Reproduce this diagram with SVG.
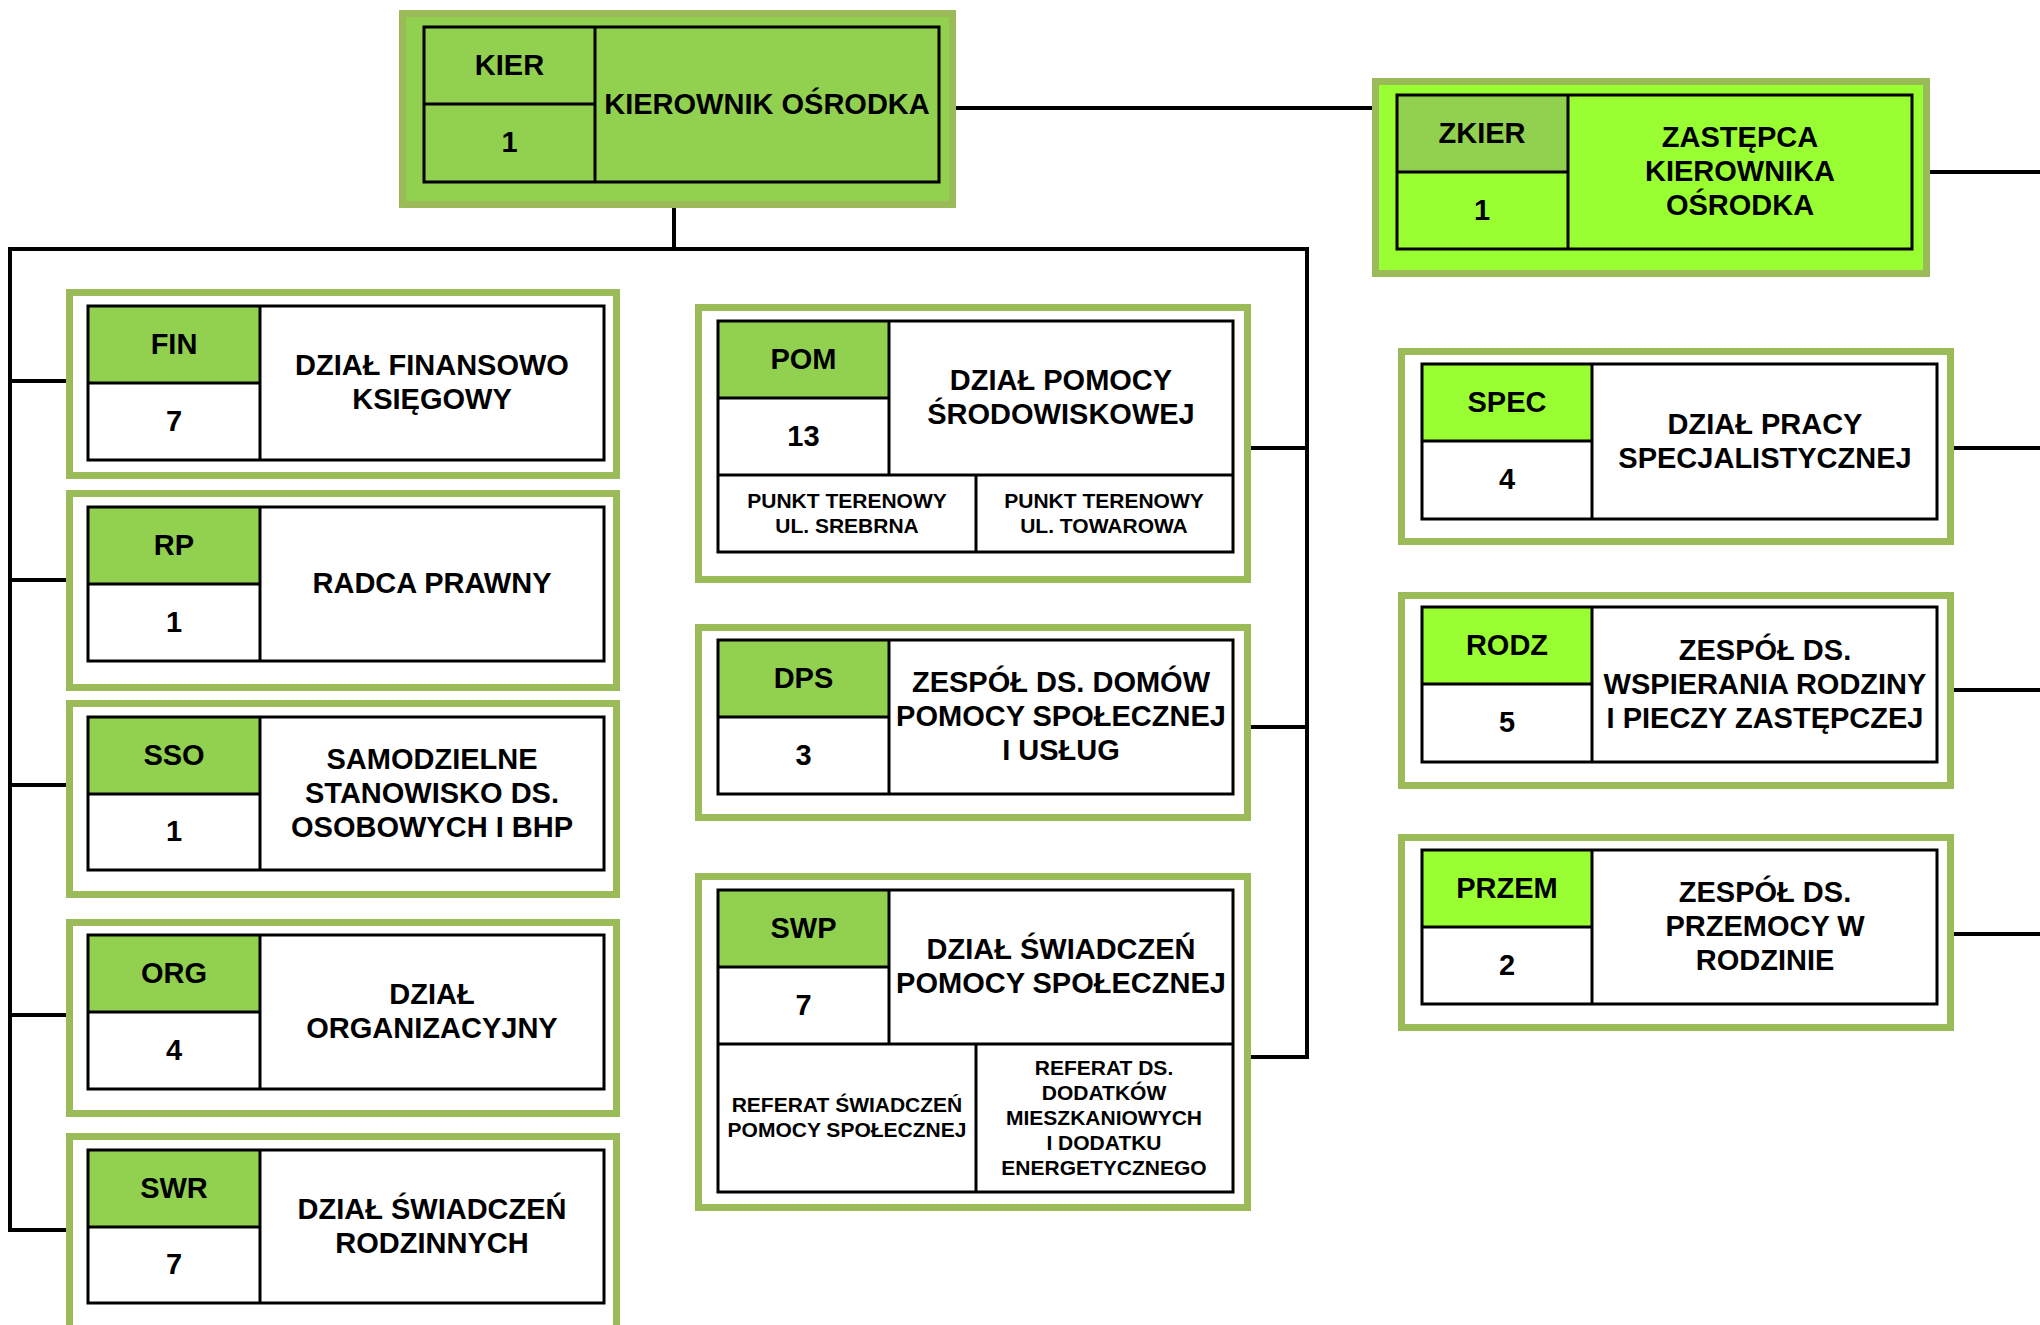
<svg xmlns="http://www.w3.org/2000/svg" width="2040" height="1325" viewBox="0 0 2040 1325">
<style>
.bg{fill:#ffffff}
.frame{stroke:#9BBB59;stroke-width:7;fill:#ffffff}
.frameA{stroke:#9BBB59;stroke-width:7;fill:#92D050}
.frameB{stroke:#9BBB59;stroke-width:7;fill:#99FF33}
.tbl{fill:none;stroke:#000;stroke-width:3}
.cellA{fill:#92D050}
.cellB{fill:#99FF33}
.ln{stroke:#000;stroke-width:3;fill:none}
.con{stroke:#000;stroke-width:4;fill:none;stroke-linecap:square}
text{font-family:"Liberation Sans",Arial,sans-serif;font-weight:bold;fill:#000;text-anchor:middle}
.t{font-size:29px}
.s{font-size:21px}
</style>
<rect class="bg" x="0" y="0" width="2040" height="1325"/>

<g id="connectors">
<line class="con" x1="956" y1="108" x2="1372" y2="108"/>
<line class="con" x1="1930" y1="172" x2="2040" y2="172"/>
<line class="con" x1="674" y1="208" x2="674" y2="249"/>
<line class="con" x1="10" y1="249" x2="1307" y2="249"/>
<line class="con" x1="10" y1="249" x2="10" y2="1230"/>
<line class="con" x1="10" y1="381" x2="66" y2="381"/>
<line class="con" x1="10" y1="580" x2="66" y2="580"/>
<line class="con" x1="10" y1="785" x2="66" y2="785"/>
<line class="con" x1="10" y1="1015" x2="66" y2="1015"/>
<line class="con" x1="10" y1="1230" x2="66" y2="1230"/>
<line class="con" x1="1307" y1="249" x2="1307" y2="1057"/>
<line class="con" x1="1251" y1="448" x2="1307" y2="448"/>
<line class="con" x1="1251" y1="727" x2="1307" y2="727"/>
<line class="con" x1="1251" y1="1057" x2="1307" y2="1057"/>
<line class="con" x1="1954" y1="448" x2="2040" y2="448"/>
<line class="con" x1="1954" y1="690" x2="2040" y2="690"/>
<line class="con" x1="1954" y1="934" x2="2040" y2="934"/>
</g>

<g id="KIER">
<rect class="frameA" x="402.5" y="13.5" width="550" height="191"/>
<rect class="tbl" x="424" y="27" width="515" height="155"/>
<line class="ln" x1="595" y1="27" x2="595" y2="182"/>
<line class="ln" x1="424" y1="104" x2="595" y2="104"/>
<text class="t" x="509.5" y="74.5">KIER</text>
<text class="t" x="509.5" y="152">1</text>
<text class="t" x="767" y="113.5">KIEROWNIK OŚRODKA</text>
</g>

<g id="ZKIER">
<rect class="frameB" x="1375.5" y="81.5" width="551" height="192"/>
<rect class="cellA" x="1397" y="95" width="171" height="77"/>
<rect class="tbl" x="1397" y="95" width="515" height="154"/>
<line class="ln" x1="1568" y1="95" x2="1568" y2="249"/>
<line class="ln" x1="1397" y1="172" x2="1568" y2="172"/>
<text class="t" x="1482" y="142.5">ZKIER</text>
<text class="t" x="1482" y="219.5">1</text>
<text class="t" x="1740" y="147">ZASTĘPCA</text>
<text class="t" x="1740" y="181">KIEROWNIKA</text>
<text class="t" x="1740" y="215">OŚRODKA</text>
</g>

<g id="FIN">
<rect class="frame" x="69.5" y="292.5" width="547" height="183"/>
<rect class="cellA" x="88" y="306" width="172" height="77"/>
<rect class="tbl" x="88" y="306" width="516" height="154"/>
<line class="ln" x1="260" y1="306" x2="260" y2="460"/>
<line class="ln" x1="88" y1="383" x2="260" y2="383"/>
<text class="t" x="174" y="353.5">FIN</text>
<text class="t" x="174" y="430.5">7</text>
<text class="t" x="432" y="375">DZIAŁ FINANSOWO</text>
<text class="t" x="432" y="409">KSIĘGOWY</text>
</g>

<g id="RP">
<rect class="frame" x="69.5" y="493.5" width="547" height="194"/>
<rect class="cellA" x="88" y="507" width="172" height="77"/>
<rect class="tbl" x="88" y="507" width="516" height="154"/>
<line class="ln" x1="260" y1="507" x2="260" y2="661"/>
<line class="ln" x1="88" y1="584" x2="260" y2="584"/>
<text class="t" x="174" y="554.5">RP</text>
<text class="t" x="174" y="631.5">1</text>
<text class="t" x="432" y="593">RADCA PRAWNY</text>
</g>

<g id="SSO">
<rect class="frame" x="69.5" y="703.5" width="547" height="191"/>
<rect class="cellA" x="88" y="717" width="172" height="77"/>
<rect class="tbl" x="88" y="717" width="516" height="153"/>
<line class="ln" x1="260" y1="717" x2="260" y2="870"/>
<line class="ln" x1="88" y1="794" x2="260" y2="794"/>
<text class="t" x="174" y="764.5">SSO</text>
<text class="t" x="174" y="841">1</text>
<text class="t" x="432" y="768.5">SAMODZIELNE</text>
<text class="t" x="432" y="802.5">STANOWISKO DS.</text>
<text class="t" x="432" y="836.5">OSOBOWYCH I BHP</text>
</g>

<g id="ORG">
<rect class="frame" x="69.5" y="922.5" width="547" height="191"/>
<rect class="cellA" x="88" y="935" width="172" height="77"/>
<rect class="tbl" x="88" y="935" width="516" height="154"/>
<line class="ln" x1="260" y1="935" x2="260" y2="1089"/>
<line class="ln" x1="88" y1="1012" x2="260" y2="1012"/>
<text class="t" x="174" y="982.5">ORG</text>
<text class="t" x="174" y="1059.5">4</text>
<text class="t" x="432" y="1004">DZIAŁ</text>
<text class="t" x="432" y="1038">ORGANIZACYJNY</text>
</g>

<g id="SWR">
<rect class="frame" x="69.5" y="1136.5" width="547" height="192"/>
<rect class="cellA" x="88" y="1150" width="172" height="77"/>
<rect class="tbl" x="88" y="1150" width="516" height="153"/>
<line class="ln" x1="260" y1="1150" x2="260" y2="1303"/>
<line class="ln" x1="88" y1="1227" x2="260" y2="1227"/>
<text class="t" x="174" y="1197.5">SWR</text>
<text class="t" x="174" y="1274">7</text>
<text class="t" x="432" y="1218.5">DZIAŁ ŚWIADCZEŃ</text>
<text class="t" x="432" y="1252.5">RODZINNYCH</text>
</g>

<g id="POM">
<rect class="frame" x="698.5" y="307.5" width="549" height="272"/>
<rect class="cellA" x="718" y="321" width="171" height="77"/>
<rect class="tbl" x="718" y="321" width="515" height="231"/>
<line class="ln" x1="889" y1="321" x2="889" y2="475"/>
<line class="ln" x1="718" y1="398" x2="889" y2="398"/>
<line class="ln" x1="718" y1="475" x2="1233" y2="475"/>
<line class="ln" x1="976" y1="475" x2="976" y2="552"/>
<text class="t" x="803.5" y="368.5">POM</text>
<text class="t" x="803.5" y="445.5">13</text>
<text class="t" x="1061" y="390">DZIAŁ POMOCY</text>
<text class="t" x="1061" y="424">ŚRODOWISKOWEJ</text>
<text class="s" x="847" y="507.5">PUNKT TERENOWY</text>
<text class="s" x="847" y="532.5">UL. SREBRNA</text>
<text class="s" x="1104" y="507.5">PUNKT TERENOWY</text>
<text class="s" x="1104" y="532.5">UL. TOWAROWA</text>
</g>

<g id="DPS">
<rect class="frame" x="698.5" y="627.5" width="549" height="190"/>
<rect class="cellA" x="718" y="640" width="171" height="77"/>
<rect class="tbl" x="718" y="640" width="515" height="154"/>
<line class="ln" x1="889" y1="640" x2="889" y2="794"/>
<line class="ln" x1="718" y1="717" x2="889" y2="717"/>
<text class="t" x="803.5" y="687.5">DPS</text>
<text class="t" x="803.5" y="764.5">3</text>
<text class="t" x="1061" y="692">ZESPÓŁ DS. DOMÓW</text>
<text class="t" x="1061" y="726">POMOCY SPOŁECZNEJ</text>
<text class="t" x="1061" y="760">I USŁUG</text>
</g>

<g id="SWP">
<rect class="frame" x="698.5" y="876.5" width="549" height="331"/>
<rect class="cellA" x="718" y="890" width="171" height="77"/>
<rect class="tbl" x="718" y="890" width="515" height="302"/>
<line class="ln" x1="889" y1="890" x2="889" y2="1044"/>
<line class="ln" x1="718" y1="967" x2="889" y2="967"/>
<line class="ln" x1="718" y1="1044" x2="1233" y2="1044"/>
<line class="ln" x1="976" y1="1044" x2="976" y2="1192"/>
<text class="t" x="803.5" y="937.5">SWP</text>
<text class="t" x="803.5" y="1014.5">7</text>
<text class="t" x="1061" y="959">DZIAŁ ŚWIADCZEŃ</text>
<text class="t" x="1061" y="993">POMOCY SPOŁECZNEJ</text>
<text class="s" x="847" y="1112">REFERAT ŚWIADCZEŃ</text>
<text class="s" x="847" y="1137">POMOCY SPOŁECZNEJ</text>
<text class="s" x="1104" y="1074.5">REFERAT DS.</text>
<text class="s" x="1104" y="1099.5">DODATKÓW</text>
<text class="s" x="1104" y="1124.5">MIESZKANIOWYCH</text>
<text class="s" x="1104" y="1149.5">I DODATKU</text>
<text class="s" x="1104" y="1174.5">ENERGETYCZNEGO</text>
</g>

<g id="SPEC">
<rect class="frame" x="1401.5" y="351.5" width="549" height="190"/>
<rect class="cellB" x="1422" y="364" width="170" height="77"/>
<rect class="tbl" x="1422" y="364" width="515" height="155"/>
<line class="ln" x1="1592" y1="364" x2="1592" y2="519"/>
<line class="ln" x1="1422" y1="441" x2="1592" y2="441"/>
<text class="t" x="1507" y="411.5">SPEC</text>
<text class="t" x="1507" y="489">4</text>
<text class="t" x="1765" y="433.5">DZIAŁ PRACY</text>
<text class="t" x="1765" y="467.5">SPECJALISTYCZNEJ</text>
</g>

<g id="RODZ">
<rect class="frame" x="1401.5" y="595.5" width="549" height="190"/>
<rect class="cellB" x="1422" y="607" width="170" height="77"/>
<rect class="tbl" x="1422" y="607" width="515" height="155"/>
<line class="ln" x1="1592" y1="607" x2="1592" y2="762"/>
<line class="ln" x1="1422" y1="684" x2="1592" y2="684"/>
<text class="t" x="1507" y="654.5">RODZ</text>
<text class="t" x="1507" y="732">5</text>
<text class="t" x="1765" y="659.5">ZESPÓŁ DS.</text>
<text class="t" x="1765" y="693.5">WSPIERANIA RODZINY</text>
<text class="t" x="1765" y="727.5">I PIECZY ZASTĘPCZEJ</text>
</g>

<g id="PRZEM">
<rect class="frame" x="1401.5" y="837.5" width="549" height="190"/>
<rect class="cellB" x="1422" y="850" width="170" height="77"/>
<rect class="tbl" x="1422" y="850" width="515" height="154"/>
<line class="ln" x1="1592" y1="850" x2="1592" y2="1004"/>
<line class="ln" x1="1422" y1="927" x2="1592" y2="927"/>
<text class="t" x="1507" y="897.5">PRZEM</text>
<text class="t" x="1507" y="974.5">2</text>
<text class="t" x="1765" y="902">ZESPÓŁ DS.</text>
<text class="t" x="1765" y="936">PRZEMOCY W</text>
<text class="t" x="1765" y="970">RODZINIE</text>
</g>
</svg>
